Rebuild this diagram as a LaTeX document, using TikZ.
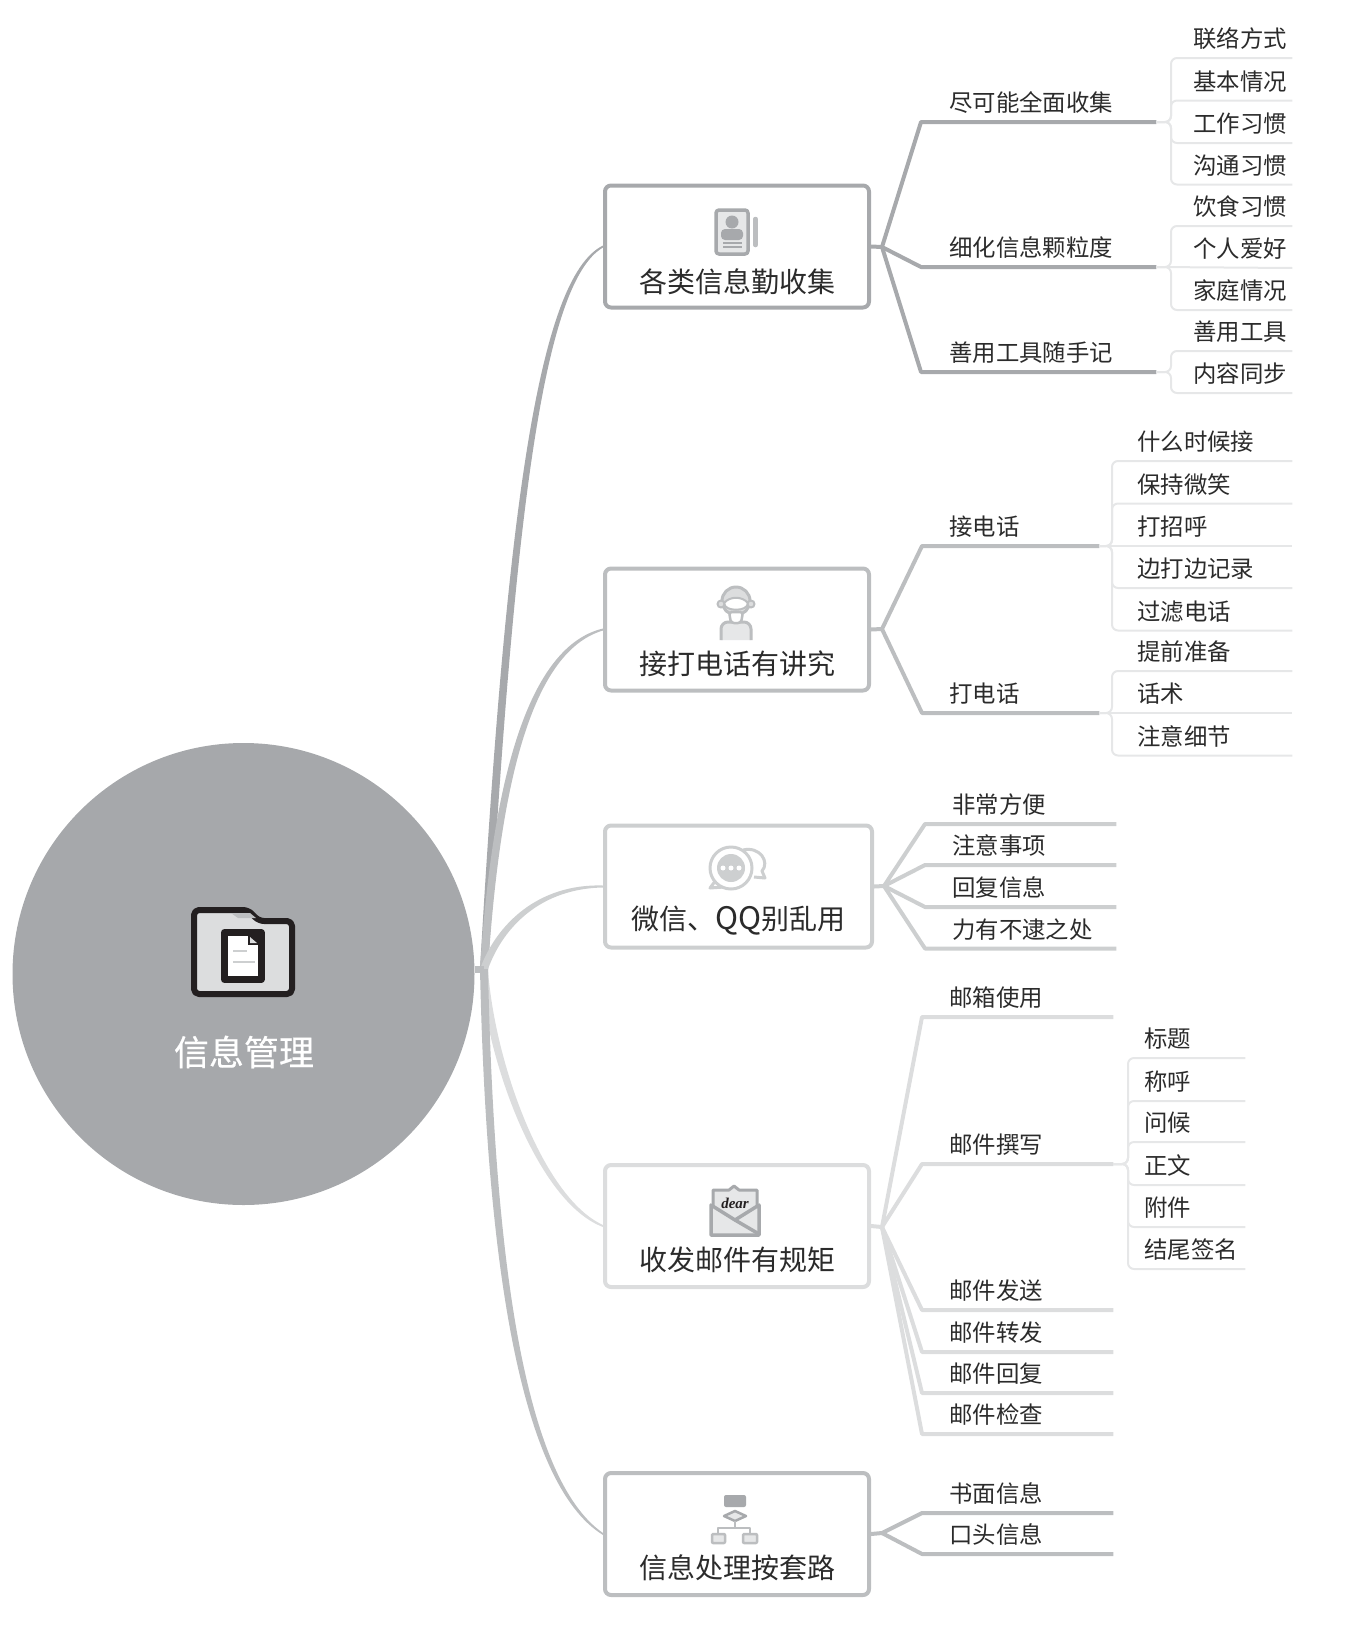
\documentclass[tikz,border=0pt]{standalone}
\usepackage{fontspec}
\setmainfont{Noto Sans CJK SC}
\newfontfamily\rootfont[FakeBold=0.5]{Noto Sans CJK SC}
\newfontfamily\dearfont{Liberation Serif}
\usetikzlibrary{%
  calc%
}
\definecolor{ink}{HTML}{231F20}
\definecolor{txt}{HTML}{2B2B2B}
\definecolor{disc}{HTML}{A6A8AB}
\definecolor{toneA}{HTML}{A7A9AC}
\definecolor{toneB}{HTML}{BCBEC0}
\definecolor{toneC}{HTML}{CDCFD0}
\definecolor{toneD}{HTML}{DCDDDE}
\definecolor{pale}{HTML}{E6E7E8}

% curved limb from the hub to a topic box, thinner towards the box
\newcommand{\limb}[5]{%
  \fill[#1] ($(hub)+(-4,0)$) .. controls ($#2+(-4,0)$) and ($#3+(-2.5,2.5*#5)$) .. ($(#4.west)+(0,#5)$)
    -- ($(#4.west)+(0,-#5)$) .. controls ($#3+(2.5,-2.5*#5)$) and ($#2+(4,0)$) .. ($(hub)+(4,0)$) -- cycle;}

\begin{document}
\begin{tikzpicture}[
    x=1pt,y=-1pt,line join=round,
    rootdisc/.style={circle,fill=disc,minimum size=462pt,inner sep=0pt},
    rootname/.style={text=white,font=\rootfont\fontsize{35}{36}\selectfont,inner sep=0pt},
    topic/.style={rectangle,draw=#1,fill=white,line width=4pt,rounded corners=6pt,
        minimum width=264pt,minimum height=122pt,inner sep=0pt},
    topicname/.style={text=txt,font=\fontsize{28}{30}\selectfont,inner sep=0pt},
    stem/.style 2 args={anchor=south west,inner xsep=0pt,inner ysep=0pt,text=txt,
        font=\fontsize{23.4}{25}\selectfont,text width=#1pt,align=left,
        text height=20pt,text depth=10pt,execute at begin node={\hspace*{#2pt}}},
    sprig/.style={line width=4pt,draw=#1},
    twig/.style={line width=2pt,draw=pale,rounded corners=6pt}
  ]
    \useasboundingbox (0,0) rectangle (1344,1633);

    % centre
    \node [rootdisc] (root) at (243.5,974) {};
    \node [rootname] (rootname) at (244,1052) {信息管理};
    \coordinate (hub) at (484,969);

    \node [topic=toneA] (box1) at (737,246.5) {};
    \node [topic=toneB] (box2) at (737,629.5) {};
    \node [topic=toneC,minimum width=267pt] (box3) at (738.5,886.5) {};
    \node [topic=toneD] (box4) at (737,1226) {};
    \node [topic=toneB] (box5) at (737,1534) {};
    \node [topicname] (name1) at (737,282) {各类信息勤收集};
    \node [topicname] (name2) at (737,664) {接打电话有讲究};
    \node [topicname] (name3) at (738,921) {微信、{\fontsize{31}{30}\selectfont QQ}别乱用};
    \node [topicname] (name4) at (737,1260) {收发邮件有规矩};
    \node [topicname] (name5) at (737,1568) {信息处理按套路};

    \limb{toneA}{(510,520)}{(540,280)}{box1}{-1}
    \limb{toneB}{(495,800)}{(525,650)}{box2}{-1}
    \limb{toneC}{(500,925)}{(540,886)}{box3}{-1}
    \limb{toneD}{(490,1060)}{(540,1200)}{box4}{1}
    \limb{toneB}{(490,1250)}{(520,1480)}{box5}{1}
    \draw [line width=7pt,draw=toneB] (hub -| root.east) -- (hub);

    % first topic
    \coordinate (fork1) at (882,247);
    \node [stem={235}{28}] (s11) at (921,122) {尽可能全面收集};
    \node [stem={235}{28}] (s12) at (921,267) {细化信息颗粒度};
    \node [stem={235}{28}] (s13) at (921,372) {善用工具随手记};
    \node [stem={121}{22}] (a1) at (1171,58) {联络方式};
    \node [stem={121}{22}] (a2) at (1171,100.5) {基本情况};
    \node [stem={121}{22}] (a3) at (1171,143) {工作习惯};
    \node [stem={121}{22}] (a4) at (1171,184.5) {沟通习惯};
    \node [stem={121}{22}] (a5) at (1171,226) {饮食习惯};
    \node [stem={121}{22}] (a6) at (1171,268) {个人爱好};
    \node [stem={121}{22}] (a7) at (1171,310) {家庭情况};
    \node [stem={121}{22}] (a8) at (1171,351) {善用工具};
    \node [stem={121}{22}] (a9) at (1171,393) {内容同步};
    \draw [sprig=toneA] (box1.east) -- (fork1);
    \draw [sprig=toneA] (fork1) -- (s11.south west) -- (s11.south east);
    \draw [sprig=toneA] (fork1) -- (s12.south west) -- (s12.south east);
    \draw [sprig=toneA] (fork1) -- (s13.south west) -- (s13.south east);
    \draw [twig] (s11.south east) -| (a1.south west) -- (a1.south east);
    \draw [twig] (s11.south east) -| (a2.south west) -- (a2.south east);
    \draw [twig] (s11.south east) -| (a3.south west) -- (a3.south east);
    \draw [twig] (s11.south east) -| (a4.south west) -- (a4.south east);
    \draw [twig] (s12.south east) -| (a5.south west) -- (a5.south east);
    \draw [twig] (s12.south east) -- (a6.south east);
    \draw [twig] (s12.south east) -| (a7.south west) -- (a7.south east);
    \draw [twig] (s13.south east) -| (a8.south west) -- (a8.south east);
    \draw [twig] (s13.south east) -| (a9.south west) -- (a9.south east);

    % second topic
    \coordinate (fork2) at (882,629);
    \node [stem={177}{27}] (s21) at (922,546) {接电话};
    \node [stem={177}{27}] (s22) at (922,713) {打电话};
    \node [stem={180}{25}] (b1) at (1112,461) {什么时候接};
    \node [stem={180}{25}] (b2) at (1112,503.5) {保持微笑};
    \node [stem={180}{25}] (b3) at (1112,546) {打招呼};
    \node [stem={180}{25}] (b4) at (1112,588) {边打边记录};
    \node [stem={180}{25}] (b5) at (1112,630.5) {过滤电话};
    \node [stem={180}{25}] (b6) at (1112,671) {提前准备};
    \node [stem={180}{25}] (b7) at (1112,713) {话术};
    \node [stem={180}{25}] (b8) at (1112,755.5) {注意细节};
    \draw [sprig=toneB] (box2.east) -- (fork2);
    \draw [sprig=toneB] (fork2) -- (s21.south west) -- (s21.south east);
    \draw [sprig=toneB] (fork2) -- (s22.south west) -- (s22.south east);
    \draw [twig] (s21.south east) -| (b1.south west) -- (b1.south east);
    \draw [twig] (s21.south east) -| (b2.south west) -- (b2.south east);
    \draw [twig] (s21.south east) -- (b3.south east);
    \draw [twig] (s21.south east) -| (b4.south west) -- (b4.south east);
    \draw [twig] (s21.south east) -| (b5.south west) -- (b5.south east);
    \draw [twig] (s22.south east) -| (b6.south west) -- (b6.south east);
    \draw [twig] (s22.south east) -- (b7.south east);
    \draw [twig] (s22.south east) -| (b8.south west) -- (b8.south east);

    % third topic
    \coordinate (fork3) at (884,886);
    \node [stem={191}{27}] (s31) at (925,824) {非常方便};
    \node [stem={191}{27}] (s32) at (925,865) {注意事项};
    \node [stem={191}{27}] (s33) at (925,907) {回复信息};
    \node [stem={191}{27}] (s34) at (925,948.5) {力有不逮之处};
    \draw [sprig=toneC] (box3.east) -- (fork3);
    \draw [sprig=toneC] (fork3) -- (s31.south west) -- (s31.south east);
    \draw [sprig=toneC] (fork3) -- (s32.south west) -- (s32.south east);
    \draw [sprig=toneC] (fork3) -- (s33.south west) -- (s33.south east);
    \draw [sprig=toneC] (fork3) -- (s34.south west) -- (s34.south east);

    % fourth topic
    \coordinate (fork4) at (882,1227);
    \node [stem={191}{27}] (s41) at (922,1017) {邮箱使用};
    \node [stem={191}{27}] (s42) at (922,1164) {邮件撰写};
    \node [stem={191}{27}] (s43) at (922,1310) {邮件发送};
    \node [stem={191}{27}] (s44) at (922,1352) {邮件转发};
    \node [stem={191}{27}] (s45) at (922,1393) {邮件回复};
    \node [stem={191}{27}] (s46) at (922,1434) {邮件检查};
    \node [stem={117}{16}] (c1) at (1128,1058) {标题};
    \node [stem={117}{16}] (c2) at (1128,1101) {称呼};
    \node [stem={117}{16}] (c3) at (1128,1142) {问候};
    \node [stem={117}{16}] (c4) at (1128,1185) {正文};
    \node [stem={117}{16}] (c5) at (1128,1227) {附件};
    \node [stem={117}{16}] (c6) at (1128,1269) {结尾签名};
    \draw [sprig=toneD] (box4.east) -- (fork4);
    \draw [sprig=toneD] (fork4) -- (s41.south west) -- (s41.south east);
    \draw [sprig=toneD] (fork4) -- (s42.south west) -- (s42.south east);
    \draw [sprig=toneD] (fork4) -- (s43.south west) -- (s43.south east);
    \draw [sprig=toneD] (fork4) -- (s44.south west) -- (s44.south east);
    \draw [sprig=toneD] (fork4) -- (s45.south west) -- (s45.south east);
    \draw [sprig=toneD] (fork4) -- (s46.south west) -- (s46.south east);
    \draw [twig] (s42.south east) -| (c1.south west) -- (c1.south east);
    \draw [twig] (s42.south east) -| (c2.south west) -- (c2.south east);
    \draw [twig] (s42.south east) -| (c3.south west) -- (c3.south east);
    \draw [twig] (s42.south east) -| (c4.south west) -- (c4.south east);
    \draw [twig] (s42.south east) -| (c5.south west) -- (c5.south east);
    \draw [twig] (s42.south east) -| (c6.south west) -- (c6.south east);

    % fifth topic
    \coordinate (fork5) at (882,1533);
    \node [stem={191}{27}] (s51) at (922,1513) {书面信息};
    \node [stem={191}{27}] (s52) at (922,1554) {口头信息};
    \draw [sprig=toneB] (box5.east) -- (fork5);
    \draw [sprig=toneB] (fork5) -- (s51.south west) -- (s51.south east);
    \draw [sprig=toneB] (fork5) -- (s52.south west) -- (s52.south east);

    % folder icon
    \draw [line width=6pt,draw=ink,fill=toneD,rounded corners=5pt]
        (194,910) -- (248,910) -- (259,921) -- (292,921) -- (292,994) -- (194,994) -- cycle;
    \fill [toneB] (231,913) -- (250,913) -- (256,918) -- (238,918) -- cycle;
    \draw [line width=7pt,draw=ink,fill=white]
        (224.5,932.5) -- (261,932.5) -- (261,979.5) -- (224.5,979.5) -- cycle;
    \fill [ink] (248,932) -- (262,932) -- (262,945) -- (248,945) -- cycle;
    \fill [toneD] (250,937) -- (257,943) -- (250,943) -- cycle;
    \draw [line width=2pt,draw=toneC] (233,951) -- (247,951) (233,962) -- (255,962);

    % card icon
    \draw [line width=3.5pt,draw=toneA,fill=pale,rounded corners=3pt] (716,210) rectangle (748,254);
    \fill [toneA] (732,222) circle (6.5pt);
    \fill [toneA,rounded corners=4pt] (721,229) rectangle (743,240);
    \draw [line width=1.5pt,draw=toneA] (723,243) -- (742,243) (723,247) -- (742,247);
    \draw [line width=4.5pt,draw=toneB,line cap=round] (755.5,219) -- (755.5,245);

    % person icon
    \draw [line width=3pt,draw=toneB,fill=pale,rounded corners=7pt] (721,640) -- (721,622) -- (751,622) -- (751,640);
    \draw [line width=3pt,draw=toneB,fill=toneD] (736,601) circle (14pt);
    \draw [line width=2pt,draw=toneB,fill=white] (724,603) .. controls (730,596) and (742,596) .. (748,603)
        .. controls (748,612) and (724,612) .. (724,603) -- cycle;
    \draw [line width=2pt,draw=toneB,fill=toneD] (721,604) circle (3.5pt) (751,604) circle (3.5pt);
    \draw [line width=2.5pt,draw=toneB,fill=white,rounded corners=3pt] (729,612) -- (743,612) -- (741,623) -- (731,623) -- cycle;

    % bubble icon
    \draw [line width=3pt,draw=toneC,fill=white] (743,850) .. controls (760,846) and (770,862) .. (762,871)
        -- (765,878) -- (754,877);
    \draw [line width=3pt,draw=toneC,fill=white] (716,880) -- (710,888) -- (724,887) -- cycle;
    \draw [line width=3pt,draw=toneC,fill=white] (731,868) circle (21pt);
    \fill [toneC] (731,868) circle (14pt);
    \fill [white] (723,868) circle (2.5pt) (731,868) circle (2.5pt) (739,868) circle (2.5pt);

    % envelope icon
    \draw [line width=3pt,draw=toneA,fill=pale] (713,1190) -- (729,1190) -- (734,1186) -- (739,1190) -- (757,1190)
        -- (757,1222) -- (713,1222) -- cycle;
    \draw [line width=3.5pt,draw=toneA,fill=pale] (711,1205) -- (735,1220) -- (759,1205) -- (759,1235) -- (711,1235) -- cycle;
    \draw [line width=3.5pt,draw=toneA] (735,1220) -- (759,1234);
    \node [inner sep=0pt,text=ink,font=\dearfont\fontsize{15}{15}\selectfont\bfseries\itshape] (dear) at (735,1203) {dear};

    % flow icon
    \fill [toneA,rounded corners=2pt] (724,1495) rectangle (746,1507);
    \draw [line width=2.5pt,draw=toneA,fill=pale] (724,1516) -- (735,1511) -- (746,1516) -- (735,1521) -- cycle;
    \draw [line width=1.5pt,draw=toneB] (735,1521) -- (735,1528) (718,1533) |- (750,1528) -- (750,1533);
    \draw [line width=2.5pt,draw=toneB,fill=pale,rounded corners=1pt] (712,1534) rectangle (725,1543);
    \draw [line width=2.5pt,draw=toneB,fill=pale,rounded corners=1pt] (743,1534) rectangle (757,1543);
\end{tikzpicture}
\end{document}
